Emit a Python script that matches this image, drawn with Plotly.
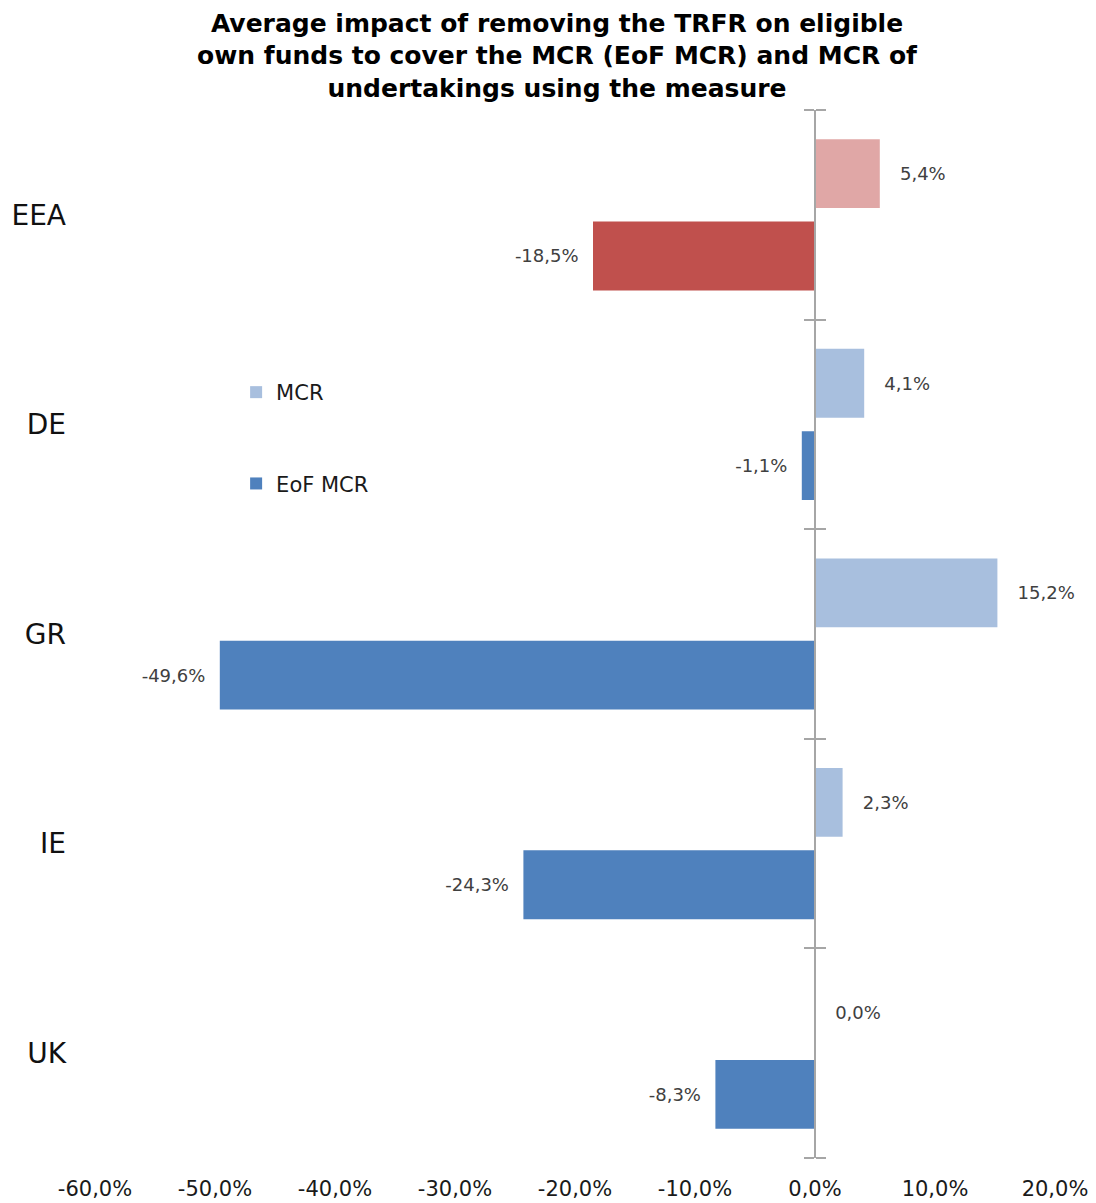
import plotly.graph_objects as go

# ---- data (top-to-bottom order as displayed) ----
categories = ["EEA", "DE", "GR", "IE", "UK"]
mcr = [5.4, 4.1, 15.2, 2.3, 0.0]
eof_mcr = [-18.5, -1.1, -49.6, -24.3, -8.3]
x_ticks = [-60, -50, -40, -30, -20, -10, 0, 10, 20]
x_tick_labels = ["-60,0%", "-50,0%", "-40,0%", "-30,0%", "-20,0%",
                 "-10,0%", "0,0%", "10,0%", "20,0%"]

title = ("Average impact of removing the TRFR on eligible<br>"
         "own funds to cover the MCR (EoF MCR) and MCR of<br>"
         "undertakings using the measure")

# ---- styling ----
MCR_COLOR = "#A8BFDE"
EOF_COLOR = "#4F81BD"
EEA_MCR_COLOR = "#E0A7A6"
EEA_EOF_COLOR = "#C0504D"
AXIS_GREY = "#A6A6A6"

# plotted bottom-to-top
cats = categories[::-1]
mcr_p = mcr[::-1]
eof_p = eof_mcr[::-1]
mcr_colors = [EEA_MCR_COLOR if c == "EEA" else MCR_COLOR for c in cats]
eof_colors = [EEA_EOF_COLOR if c == "EEA" else EOF_COLOR for c in cats]

label_font = dict(family="DejaVu Sans", size=18, color="#404040")
fig = go.Figure()
fig.add_trace(go.Bar(
    y=cats, x=eof_p, orientation="h", name="EoF MCR", legendgroup="eof",
    legendrank=2,
    marker=dict(color=eof_colors, line=dict(width=0)),
    texttemplate="%{x:.1f}%" + "\u00a0\u00a0", textposition="outside",
    textfont=label_font, cliponaxis=False, hoverinfo="x+name",
))
fig.add_trace(go.Bar(
    y=cats, x=mcr_p, orientation="h", name="MCR", legendgroup="mcr",
    legendrank=1,
    marker=dict(color=mcr_colors, line=dict(width=0)),
    texttemplate="\u00a0\u00a0\u00a0" + "%{x:.1f}%", textposition="outside",
    textfont=label_font, cliponaxis=False, hoverinfo="x+name",
))
# invisible helpers so the crossing axis at 0 gets drawn with its ticks
for ya in ("y2", "y3"):
    fig.add_trace(go.Scatter(
        y=cats, x=mcr_p, yaxis=ya, mode="markers",
        marker=dict(opacity=0, size=1), showlegend=False, hoverinfo="skip",
    ))

zero_pos = (0 - x_ticks[0]) / (x_ticks[-1] - x_ticks[0])

fig.update_layout(
    width=1088, height=1195,
    paper_bgcolor="white", plot_bgcolor="white",
    separators=",.",
    barmode="group", bargap=0.214, bargroupgap=0.164,
    margin=dict(l=87, r=41, t=102, b=45, autoexpand=False),
    title=dict(text=title, x=0.5046, xref="container", xanchor="center",
               y=0.980, yref="container", yanchor="top",
               font=dict(family="DejaVu Sans", size=25, color="black", weight="bold")),
    showlegend=True,
    legend=dict(x=0.147, y=0.750, xanchor="left", yanchor="top",
                traceorder="grouped", tracegroupgap=61,
                font=dict(family="DejaVu Sans", size=21, color="#1a1a1a"),
                bgcolor="rgba(0,0,0,0)"),
    xaxis=dict(range=[x_ticks[0], x_ticks[-1]], tickvals=x_ticks,
               ticktext=x_tick_labels, automargin=False,
               showgrid=False, zeroline=False, showline=False,
               ticks="outside", ticklen=12, tickcolor="rgba(0,0,0,0)",
               tickfont=dict(family="DejaVu Sans", size=21, color="#1a1a1a")),
    yaxis=dict(type="category", categoryorder="array", categoryarray=cats,
               showgrid=False, zeroline=False, showline=False, ticks="",
               ticklabelstandoff=28, automargin=False,
               tickfont=dict(family="DejaVu Sans", size=28, color="#111111")),
    yaxis2=dict(type="category", categoryorder="array", categoryarray=cats,
                overlaying="y", matches="y", anchor="free", position=zero_pos,
                side="left", showline=True, linecolor=AXIS_GREY, linewidth=1.5,
                ticks="outside", tickson="boundaries", ticklen=10,
                tickcolor=AXIS_GREY, tickwidth=1.5, automargin=False,
                showticklabels=False, showgrid=False, zeroline=False),
    yaxis3=dict(type="category", categoryorder="array", categoryarray=cats,
                overlaying="y", matches="y", anchor="free", position=zero_pos,
                side="right", showline=False,
                ticks="outside", tickson="boundaries", ticklen=10,
                tickcolor=AXIS_GREY, tickwidth=1.5, automargin=False,
                showticklabels=False, showgrid=False, zeroline=False),
)

fig.write_html("out.html")
